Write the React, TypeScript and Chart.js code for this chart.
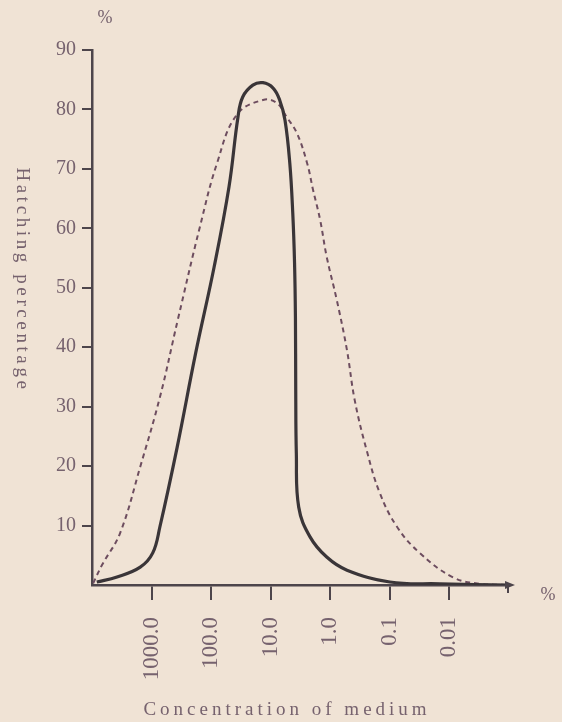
import React, { useEffect, useRef } from "react";
import { Chart, registerables } from "chart.js";

Chart.register(...registerables);

const xTickLabels = ["1000.0", "100.0", "10.0", "1.0", "0.1", "0.01"];
const yTicks = [0, 10, 20, 30, 40, 50, 60, 70, 80, 90];

const solidX = [0.08, 0.42, 0.81, 1.02, 1.14, 1.43, 1.74, 2.05, 2.3, 2.45, 2.53, 2.7, 2.87, 3.04, 3.15, 3.24, 3.32, 3.37, 3.4, 3.415, 3.42, 3.43, 3.47, 3.66, 3.94, 4.28, 5.0, 5.84, 7.0];
const solidY = [0.5, 1.35, 3.0, 5.4, 9.8, 23.2, 39.0, 53.5, 67.0, 78.7, 82.1, 84.1, 84.5, 83.6, 81.6, 78.2, 71.0, 62.6, 54.2, 44.9, 32.8, 22.2, 13.1, 8.1, 4.7, 2.5, 0.5, 0.2, 0];

const dashedX = [0.02, 0.17, 0.47, 0.81, 1.14, 1.44, 1.81, 2.1, 2.43, 2.87, 3.1, 3.27, 3.44, 3.61, 3.71, 3.83, 3.94, 4.11, 4.28, 4.41, 4.61, 4.83, 5.12, 5.5, 6.06, 6.51, 7.0];
const dashedY = [0.3, 3.4, 8.7, 19.9, 31.6, 44.6, 60.2, 71.0, 79.1, 81.6, 81.1, 78.7, 76.0, 71.0, 66.5, 61.4, 55.2, 47.9, 39.5, 31.1, 22.7, 15.5, 9.8, 5.4, 1.3, 0.2, 0];

const yTitle = "Hatching percentage";
const xTitle = "Concentration of medium";
const unitLabel = "%";

const BG = "#f0e3d5";
const TEXT = "#76626e";
const AXIS = "#4d454b";
const SOLID = "#3a3538";
const DASHED = "#6d4d5f";
const FONT = "'Liberation Serif', 'DejaVu Serif', serif";

const W = 562;
const H = 722;

export default function App() {
  const ref = useRef<HTMLCanvasElement | null>(null);

  useEffect(() => {
    if (!ref.current) return;
    const decorations = {
      id: "decorations",
      afterDraw(chart: any) {
        const ctx = chart.ctx;
        const xs = chart.scales.x;
        const ys = chart.scales.y;
        ctx.save();
        // arrowhead on x axis
        const ax = xs.getPixelForValue(7);
        const ay = ys.getPixelForValue(0);
        ctx.fillStyle = AXIS;
        ctx.beginPath();
        ctx.moveTo(ax + 6, ay);
        ctx.lineTo(ax - 4, ay - 4);
        ctx.lineTo(ax - 4, ay + 4);
        ctx.closePath();
        ctx.fill();
        ctx.strokeStyle = AXIS;
        ctx.lineWidth = 2;
        ctx.beginPath();
        ctx.moveTo(ax - 1, ay);
        ctx.lineTo(ax - 1, ay + 8);
        ctx.stroke();

        ctx.fillStyle = TEXT;
        // unit labels
        ctx.font = `18px ${FONT}`;
        ctx.textAlign = "center";
        ctx.textBaseline = "middle";
        ctx.fillText(unitLabel, xs.left + 13, 18);
        ctx.fillText(unitLabel, 548, ay + 10);

        // x title
        (ctx as any).letterSpacing = "4px";
        ctx.font = `19px ${FONT}`;
        ctx.textAlign = "center";
        ctx.textBaseline = "alphabetic";
        ctx.fillText(xTitle, 287, 715);

        // y title (reads top to bottom)
        (ctx as any).letterSpacing = "3.6px";
        ctx.translate(22, 280);
        ctx.rotate(Math.PI / 2);
        ctx.textBaseline = "middle";
        ctx.font = `19px ${FONT}`;
        ctx.fillText(yTitle, 0, 0);
        (ctx as any).letterSpacing = "0px";
        ctx.restore();
      },
    };

    const chart = new Chart(ref.current, {
      type: "scatter",
      data: {
        datasets: [
          {
            label: "solid",
            data: solidX.map((x, i) => ({ x, y: solidY[i] })),
            showLine: true,
            borderColor: SOLID,
            borderWidth: 3.2,
            pointRadius: 0,
            tension: 0.4,
            fill: false,
          },
          {
            label: "dashed",
            data: dashedX.map((x, i) => ({ x, y: dashedY[i] })),
            showLine: true,
            borderColor: DASHED,
            borderWidth: 2,
            borderDash: [5, 4],
            pointRadius: 0,
            tension: 0.4,
            fill: false,
          },
        ],
      },
      options: {
        animation: false,
        responsive: false,
        devicePixelRatio: 1,
        layout: { padding: { left: 0, right: 53, top: 50, bottom: 0 } },
        plugins: {
          legend: { display: false },
          tooltip: { enabled: false },
        },
        scales: {
          x: {
            type: "linear",
            min: 0,
            max: 7,
            afterFit(scale: any) {
              scale.height = 137;
            },
            afterBuildTicks(scale: any) {
              scale.ticks = [0, 1, 2, 3, 4, 5, 6, 7].map((v) => ({ value: v }));
            },
            border: { display: true, color: AXIS, width: 2.5 },
            grid: {
              drawOnChartArea: false,
              drawTicks: true,
              tickLength: 15,
              lineWidth: 2,
              color: (c: any) =>
                c.tick && (c.tick.value === 0 || c.tick.value === 7) ? "rgba(0,0,0,0)" : AXIS,
            },
            ticks: {
              autoSkip: false,
              maxRotation: 90,
              minRotation: 90,
              padding: 17,
              color: TEXT,
              font: { family: FONT, size: 23 },
              callback: (v: any) => {
                const i = Math.round(Number(v)) - 1;
                return i >= 0 && i < xTickLabels.length ? xTickLabels[i] : "";
              },
            },
          },
          y: {
            type: "linear",
            min: 0,
            max: 90,
            afterFit(scale: any) {
              scale.width = 92;
            },
            afterBuildTicks(scale: any) {
              scale.ticks = yTicks.map((v) => ({ value: v }));
            },
            border: { display: true, color: AXIS, width: 2.5 },
            grid: {
              drawOnChartArea: false,
              drawTicks: true,
              tickLength: 10,
              lineWidth: 2,
              color: (c: any) => (c.tick && c.tick.value === 0 ? "rgba(0,0,0,0)" : AXIS),
            },
            ticks: {
              padding: 6,
              color: TEXT,
              font: { family: FONT, size: 20 },
              callback: (v: any) => (Number(v) === 0 ? "" : String(v)),
            },
          },
        },
      },
      plugins: [decorations],
    });
    return () => chart.destroy();
  }, []);

  return (
    <div
      style={{
        position: "fixed",
        left: 0,
        top: 0,
        width: W,
        height: H,
        background: BG,
      }}
    >
      <canvas ref={ref} width={W} height={H} style={{ width: W, height: H, display: "block" }} />
    </div>
  );
}
